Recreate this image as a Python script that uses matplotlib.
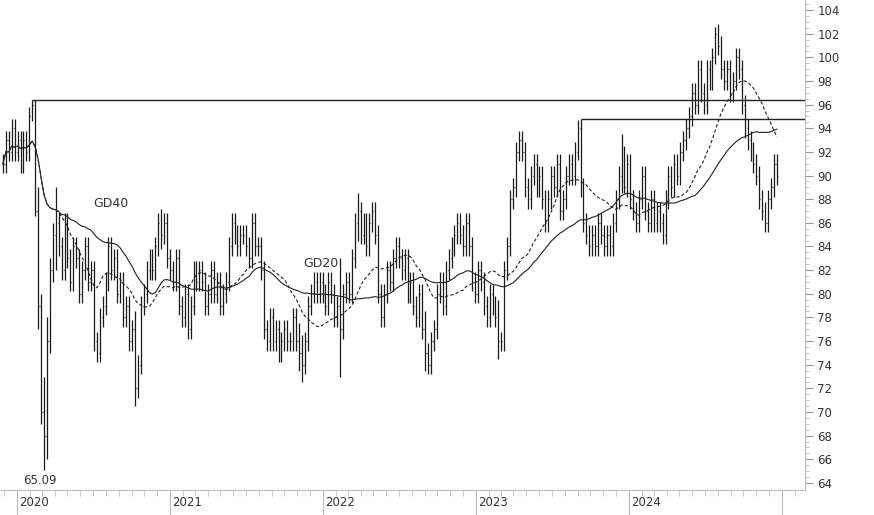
import matplotlib
matplotlib.use("Agg")
import matplotlib.pyplot as plt
import matplotlib.dates as mdates
import numpy as np
import pandas as pd

# weekly closes, 2019-11-29 .. 2024-12
closes = [
    91, 93, 92, 94, 92,
    # 2020
    93, 91, 93, 92, 95, 96, 87, 79, 70, 68, 76, 82, 85, 86,
    84, 82, 86, 83, 81, 84, 83, 80, 82, 84, 81,
    82, 76, 75, 78, 79, 81, 84, 82, 83, 80,
    81, 78, 79, 76, 77, 72, 74, 79, 80, 82, 83, 82,
    84, 86, 85, 86, 83,
    # 2021
    82, 81, 83, 79, 78, 80, 77, 79, 82, 81,
    82, 81, 79, 80, 82, 80, 81, 79, 80, 81,
    84, 86, 85, 84, 85, 85, 84, 83, 86, 84,
    84, 82, 77, 76, 78, 76, 77, 75, 76, 77,
    76, 76, 78, 76, 75, 74, 76, 79, 80, 81, 80, 81,
    # 2022
    80, 79, 81, 80, 78, 79, 77, 80, 81, 80,
    83, 86, 87, 85, 86, 84, 86, 87, 85, 80,
    78, 80, 82, 81, 83, 84, 83, 82, 83, 80,
    81, 79, 78, 80, 77, 75, 74, 76, 77, 80,
    81, 79, 82, 83, 84, 85, 86, 85, 84, 86, 84, 81,
    # 2023
    80, 82, 81, 79, 78, 80, 79, 78, 76, 76,
    82, 84, 88, 89, 92, 93, 92, 89, 88, 90,
    91, 89, 90, 88, 86, 88, 90, 89, 91, 87,
    88, 90, 91, 90, 92, 94, 89, 86, 85, 84,
    85, 84, 86, 85, 84, 85, 84, 86, 88, 90, 92, 89,
    # 2024
    91, 88, 87, 86, 88, 90, 87, 86, 88, 86,
    87, 86, 85, 88, 90, 89, 91, 90, 92, 93,
    94, 95, 97, 96, 99, 97, 96, 99, 98, 100,
    102, 101, 99, 98, 99, 97, 98, 100, 99, 96,
    94, 93, 92, 91, 90, 88, 87, 86, 88, 89,
    91, 90,
]

# extra wick beyond open/close per bar
wicks = [
    0.8, 0.8, 0.8, 0.8, 0.8,
    0.8, 0.8, 0.8, 0.8, 0.8, 0.4, 0.4, 2, 1, 3, 2, 1, 1, 3,
    0.8, 0.8, 0.8, 0.8, 0.8, 0.8, 0.8, 0.8, 0.8, 0.8, 0.8,
    0.8, 0.8, 0.8, 0.8, 0.8, 0.8, 0.8, 0.8, 0.8, 0.8,
    0.8, 0.8, 0.8, 0.8, 0.8, 1.5, 0.8, 0.8, 0.8, 0.8, 0.8, 0.8,
    0.8, 0.8, 1.2, 0.8, 0.8,
    0.8, 0.8, 0.8, 0.8, 0.8, 0.8, 0.8, 0.8, 0.8, 0.8,
    0.8, 0.8, 0.8, 0.8, 0.8, 0.8, 0.8, 0.8, 0.8, 0.8,
    0.8, 0.8, 0.8, 0.8, 0.8, 0.8, 0.8, 0.8, 0.8, 0.8,
    0.8, 0.8, 0.8, 0.8, 0.8, 0.8, 0.8, 0.8, 0.8, 0.8,
    0.8, 0.8, 0.8, 0.8, 1.5, 1.5, 0.8, 0.8, 0.8, 0.8, 0.8, 0.8,
    0.8, 0.8, 0.8, 0.8, 0.8, 0.8, 4, 0.8, 0.8, 0.8,
    0.8, 0.8, 1.5, 0.8, 0.8, 0.8, 0.8, 0.8, 0.8, 0.8,
    0.8, 0.8, 0.8, 0.8, 0.8, 0.8, 0.8, 0.8, 0.8, 0.8,
    0.8, 0.8, 0.8, 0.8, 0.8, 1.5, 0.8, 0.8, 0.8, 0.8,
    0.8, 0.8, 0.8, 0.8, 0.8, 0.8, 0.8, 0.8, 0.8, 0.8, 0.8, 0.8,
    0.8, 0.8, 0.8, 0.8, 0.8, 0.8, 0.8, 0.8, 1.5, 0.8,
    0.8, 0.8, 0.8, 0.8, 0.8, 0.8, 0.8, 0.8, 0.8, 0.8,
    0.8, 0.8, 0.8, 0.8, 0.8, 0.8, 0.8, 0.8, 0.8, 0.8,
    0.8, 0.8, 0.8, 0.8, 0.8, 0.7, 0.8, 0.8, 0.8, 0.8,
    0.8, 0.8, 0.8, 0.8, 0.8, 0.8, 0.8, 0.8, 0.8, 0.8, 1.5, 0.5,
    0.8, 0.8, 0.8, 0.8, 0.8, 0.8, 0.8, 0.8, 0.8, 0.8,
    0.8, 0.8, 0.8, 0.8, 0.8, 0.8, 0.8, 0.8, 0.8, 0.8,
    0.8, 0.8, 0.8, 0.8, 0.8, 0.8, 0.8, 0.8, 0.8, 0.8,
    0.6, 0.8, 0.8, 0.8, 0.8, 0.8, 0.8, 0.8, 0.8, 0.8,
    0.8, 0.8, 0.8, 0.8, 0.8, 0.8, 0.8, 0.8, 0.8, 0.8,
    0.8, 0.8,
]

dates = pd.date_range("2019-11-29", periods=len(closes), freq="7D")
close = pd.Series(closes, index=dates, dtype=float)
opens = close.shift(1).fillna(close.iloc[0])
wick = pd.Series(wicks[: len(closes)], index=dates)
highs = np.maximum(opens, close) + wick
lows = np.minimum(opens, close) - wick
lows.iloc[14] = 65.09

gd20 = close.rolling(20, min_periods=1).mean()
gd40 = close.rolling(40, min_periods=1).mean()

fig = plt.figure(figsize=(8.74, 5.15), dpi=100)
ax = fig.add_axes([0, 25 / 515, 805 / 874, 490 / 515])

dn = mdates.date2num(dates)
ax.vlines(dn, lows, highs, color="#1a1a1a", lw=0.9)
ax.hlines(opens, dn - 1.6, dn, color="#1a1a1a", lw=0.9)
ax.hlines(close, dn, dn + 1.6, color="#1a1a1a", lw=0.9)

ax.plot(dn, gd20, color="#222", lw=0.8, ls=(0, (3, 2)))
ax.plot(dn, gd40, color="#222", lw=0.8)

xmax = mdates.date2num(pd.Timestamp("2025-02-25"))
i1 = int(np.argmax(highs.values[:60]))
ax.hlines(highs.iloc[i1], dn[i1], xmax, color="#222", lw=1)
i2 = 190 + int(np.argmax(highs.values[190:230]))
ax.hlines(highs.iloc[i2], dn[i2], xmax, color="#222", lw=1)

ax.text(mdates.date2num(pd.Timestamp("2020-07-01")), 87.3, "GD40", fontsize=9, color="#333")
ax.text(mdates.date2num(pd.Timestamp("2021-11-15")), 82.3, "GD20", fontsize=9, color="#333")
ax.text(dn[14] - 10, 63.9, "65.09", fontsize=8.5, color="#333", ha="center")

ax.set_xlim(mdates.date2num(pd.Timestamp("2019-11-22")), xmax)
ax.set_ylim(63.4, 104.85)

ax.yaxis.tick_right()
ax.set_yticks(np.arange(64, 105, 2))
ax.set_yticks(np.arange(64, 104.6, 0.5), minor=True)
ax.tick_params(axis="y", which="major", length=6, color="#999", labelsize=8.5, labelcolor="#333", pad=3)
ax.tick_params(axis="y", which="minor", length=3, color="#bbb")

ax.xaxis.set_major_locator(mdates.YearLocator())
ax.xaxis.set_minor_locator(mdates.MonthLocator())
ax.xaxis.set_major_formatter(plt.NullFormatter())
ax.tick_params(axis="x", which="major", length=25, color="#bbb")
ax.tick_params(axis="x", which="minor", length=4, color="#bbb")
for yr in range(2020, 2025):
    ax.text(mdates.date2num(pd.Timestamp(f"{yr}-01-01")) + 6, -0.012, str(yr),
            transform=ax.get_xaxis_transform(), fontsize=8.5, color="#333", va="top")

for s in ["top", "left"]:
    ax.spines[s].set_visible(False)
ax.spines["right"].set_color("#bbb")
ax.spines["bottom"].set_color("#bbb")

fig.savefig("out.png", dpi=100)
